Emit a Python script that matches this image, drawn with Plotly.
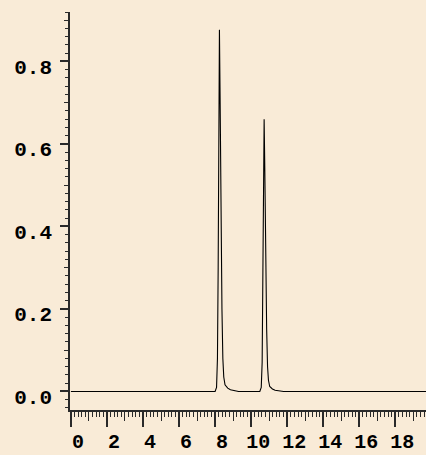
import plotly.graph_objects as go

# Chromatogram trace
time = [0.0, 7.0, 8.0, 8.08, 8.13, 8.17, 8.21, 8.24, 8.28, 8.33, 8.38, 8.43, 8.48, 8.55, 8.7, 8.85, 9.1, 9.3,
        10.48, 10.56, 10.61, 10.65, 10.69, 10.72, 10.76, 10.81, 10.86, 10.91, 10.96, 11.03, 11.18, 11.33, 11.58, 11.8,
        15.0, 19.7]
signal = [0.0, 0.0, 0.0, 0.01, 0.08, 0.3, 0.65, 0.877, 0.7, 0.4, 0.2, 0.08, 0.035, 0.016, 0.008, 0.004, 0.001, 0.0,
          0.0, 0.01, 0.07, 0.25, 0.5, 0.66, 0.53, 0.3, 0.15, 0.06, 0.027, 0.012, 0.006, 0.003, 0.001, 0.0,
          0.0, 0.0]

x_range = [-0.05, 19.7]
y_range = [-0.045, 0.92]
x_mid_ticks = [1, 3, 5, 7, 9, 11, 13, 15, 17, 19]
y_mid_ticks = [0.1, 0.3, 0.5, 0.7, 0.9]

BG = "#f9ebd7"
AX = "#2a2a2a"
yfont = dict(family="Liberation Mono", size=21, color="black", weight="bold")
xfont = dict(family="Liberation Mono", size=20, color="black", weight="bold")

fig = go.Figure()
fig.add_trace(go.Scatter(x=time, y=signal, mode="lines",
                         line=dict(color="black", width=1.1), showlegend=False, hoverinfo="skip"))
fig.add_trace(go.Scatter(x=[None], y=[None], xaxis="x2", yaxis="y2", showlegend=False))

fig.update_layout(
    width=426, height=455,
    margin=dict(l=70, r=0, t=12, b=45),
    paper_bgcolor=BG, plot_bgcolor=BG,
    xaxis=dict(range=x_range, showgrid=False, zeroline=False, showline=True, linecolor=AX, linewidth=1.5,
               ticks="outside", tickcolor=AX, ticklen=15, tickwidth=1.5, dtick=2, tick0=0, automargin=False,
               tickfont=xfont, ticklabelstandoff=-3, ticklabelshift=7,
               minor=dict(ticks="outside", dtick=0.2, tick0=0, ticklen=5, tickcolor=AX, tickwidth=1)),
    yaxis=dict(range=y_range, showgrid=False, zeroline=False, showline=True, linecolor=AX, linewidth=1.5,
               ticks="outside", tickcolor=AX, ticklen=8, tickwidth=1.5, dtick=0.2, tick0=0, automargin=False,
               tickformat=".1f", tickfont=yfont, ticklabelstandoff=4, ticklabelshift=5,
               minor=dict(ticks="outside", dtick=0.02, tick0=0, ticklen=3, tickcolor=AX, tickwidth=1)),
    xaxis2=dict(range=x_range, overlaying="x", anchor="y", side="bottom", showgrid=False, zeroline=False,
                showline=False, ticks="outside", tickvals=x_mid_ticks, showticklabels=False, automargin=False,
                ticklen=10, tickcolor=AX, tickwidth=1),
    yaxis2=dict(range=y_range, overlaying="y", anchor="x", side="left", showgrid=False, zeroline=False,
                showline=False, ticks="outside", tickvals=y_mid_ticks, showticklabels=False, automargin=False,
                ticklen=5, tickcolor=AX, tickwidth=1),
)

fig.write_html("out.html")
